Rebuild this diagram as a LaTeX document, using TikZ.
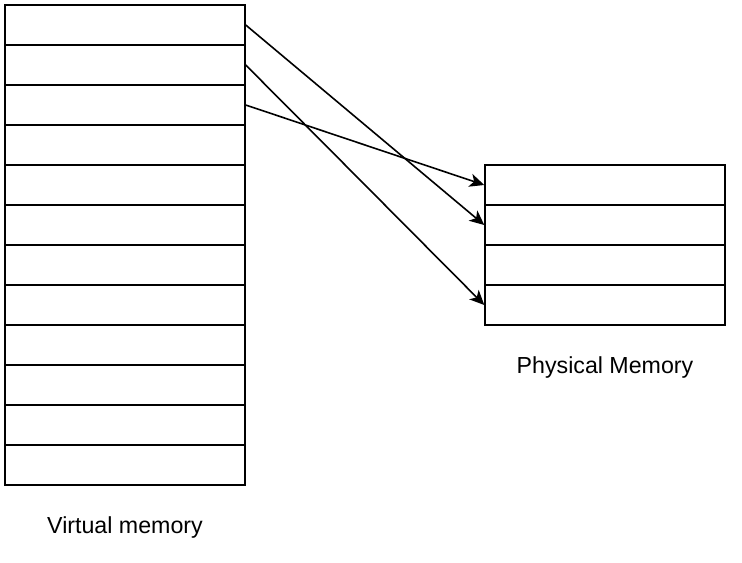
\documentclass[tikz,border=0pt]{standalone}
\usepackage{fontspec}
\setmainfont{Liberation Sans}
\usetikzlibrary{arrows.meta}

\tikzset{
	cell/.style={draw, line width=1.1pt, minimum width=180pt, minimum height=30pt, inner sep=0pt},
	map/.style={-{Stealth[length=11pt,width=10pt,inset=3pt]}, line width=1.2pt},
	caption/.style={font=\fontsize{17.4}{20}\selectfont}
}

\begin{document}
\begin{tikzpicture}[x=0.75pt,y=-0.75pt]
	\useasboundingbox (0,0) rectangle (742,562);
	\def\rowheight{40}

	% virtual memory
	\foreach \i in {0,...,11}
	{
		\node[cell] (virt_\i) at (125,25+\rowheight*\i) {};
	}
	\node[caption] (virt label) at (125,527) {Virtual memory};

	% physical memory
	\foreach \i in {0,...,3}
	{
		\node[cell] (phys_\i) at (605,185+\rowheight*\i) {};
	}
	\node[caption] (phys label) at (605,367) {Physical Memory};

	\draw[map] (virt_0.east) -- (phys_1.west);
	\draw[map] (virt_1.east) -- (phys_3.west);
	\draw[map] (virt_2.east) -- (phys_0.west);
\end{tikzpicture}
\end{document}
